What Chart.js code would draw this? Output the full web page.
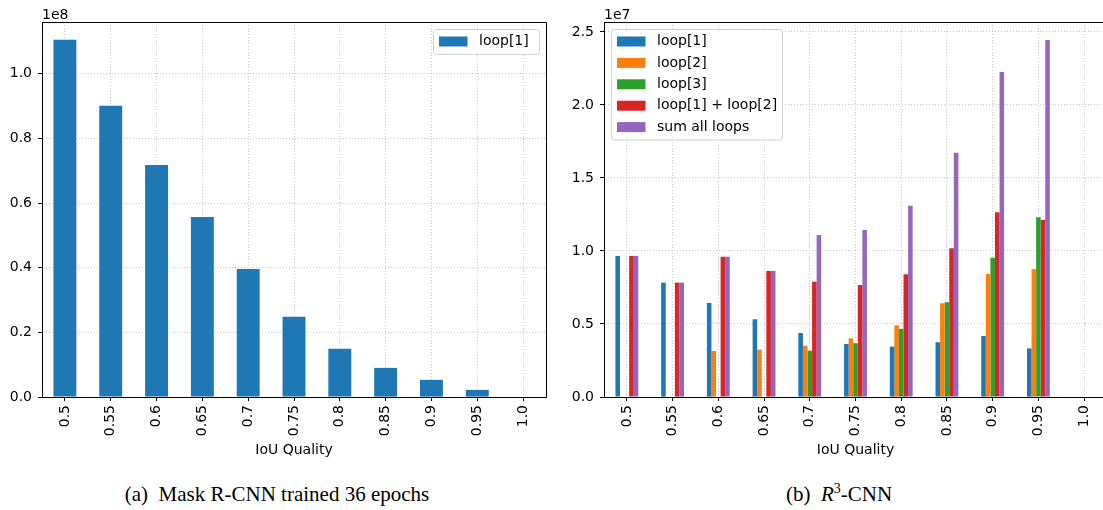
<!DOCTYPE html>
<html>
<head>
<meta charset="utf-8">
<script src="https://cdn.jsdelivr.net/npm/chart.js@4.4.1/dist/chart.umd.min.js"></script>
<style>
  html, body { margin: 0; padding: 0; background: #fff; }
  body { width: 1103px; height: 510px; overflow: hidden; position: relative; }
  canvas { position: absolute; top: 0; }
  .cap { position: absolute; top: 481px; font: 21px "Liberation Serif", "Times New Roman", serif; line-height: 26px; color: #000; white-space: nowrap; transform: translateX(-50%); }
  .cap sup { font-size: 14px; line-height: 0; }
</style>
</head>
<body>
<canvas id="mask-rcnn" width="555" height="470" style="left:0"></canvas>
<canvas id="r3-cnn" width="560" height="470" style="left:555px"></canvas>
<div class="cap" style="left:277px">(a)&nbsp; Mask R-CNN trained 36 epochs</div>
<div class="cap" style="left:839px">(b)&nbsp; <i>R</i><sup>3</sup>-CNN</div>
<script>
// IoU histogram: Mask R-CNN (left, x1e8) vs R3-CNN loops (right, x1e7)
const iouBins = ['0.5', '0.55', '0.6', '0.65', '0.7', '0.75', '0.8', '0.85', '0.9', '0.95', '1.0'];

// left panel, units of 1e8
const maskLoop1 = [1.105, 0.901, 0.718, 0.557, 0.396, 0.248, 0.149, 0.090, 0.053, 0.022, 0];
const maskTicks = [0, 0.2, 0.4, 0.6, 0.8, 1.0];
const maskMax = 1.16;

// right panel, units of 1e7
const r3Loop1 = [0.966, 0.783, 0.644, 0.532, 0.438, 0.363, 0.345, 0.375, 0.418, 0.333, null];
const r3Loop2 = [null, null, 0.315, 0.324, 0.351, 0.402, 0.491, 0.642, 0.842, 0.875, null];
const r3Loop3 = [null, null, null, null, 0.317, 0.368, 0.466, 0.649, 0.954, 1.231, null];
const r3Loop12 = [0.966, 0.783, 0.960, 0.863, 0.790, 0.767, 0.840, 1.018, 1.265, 1.212, null];
const r3SumAll = [0.966, 0.783, 0.960, 0.863, 1.110, 1.144, 1.310, 1.673, 2.226, 2.445, null];
const r3Ticks = [0, 0.5, 1.0, 1.5, 2.0, 2.5];
const r3Max = 2.568;

const tab = { blue: '#1f77b4', orange: '#ff7f0e', green: '#2ca02c', red: '#d62728', purple: '#9467bd' };
const FONT = '"DejaVu Sans", sans-serif';

// legend box drawn inside the axes, matplotlib style
const insideLegend = {
  id: 'insideLegend',
  afterDraw(chart, args, opts) {
    const { ctx, chartArea: area } = chart;
    const sets = chart.data.datasets;
    const rowH = 21.4;
    const w = opts.width;
    const h = sets.length * rowH + 3.5;
    const x0 = opts.side === 'right' ? area.right - 7 - w : area.left + 7;
    const y0 = area.top + 7;
    ctx.save();
    ctx.beginPath();
    if (ctx.roundRect) ctx.roundRect(x0 + 0.5, y0 + 0.5, w, h, 3);
    else ctx.rect(x0 + 0.5, y0 + 0.5, w, h);
    ctx.fillStyle = 'rgba(255,255,255,0.8)';
    ctx.fill();
    ctx.strokeStyle = '#d0d0d0';
    ctx.lineWidth = 1;
    ctx.stroke();
    ctx.font = '14px ' + FONT;
    ctx.textBaseline = 'middle';
    sets.forEach((ds, i) => {
      const cy = y0 + 12.5 + i * rowH;
      ctx.fillStyle = ds.backgroundColor;
      ctx.fillRect(x0 + 6, cy - 5, 28.5, 10);
      ctx.fillStyle = '#000';
      ctx.fillText(ds.label, x0 + 46, cy);
    });
    ctx.restore();
  },
};

// top/right spines and the "1eN" offset text
const frame = {
  id: 'frame',
  afterDraw(chart, args, opts) {
    const { ctx, chartArea: a } = chart;
    ctx.save();
    ctx.strokeStyle = '#000';
    ctx.lineWidth = 1;
    ctx.beginPath();
    ctx.moveTo(a.left, a.top + 0.5);
    ctx.lineTo(a.right + 0.5, a.top + 0.5);
    ctx.lineTo(a.right + 0.5, a.bottom);
    ctx.stroke();
    ctx.fillStyle = '#000';
    ctx.font = '14px ' + FONT;
    ctx.textBaseline = 'alphabetic';
    ctx.fillText(opts.offsetText, a.left, 19);
    ctx.restore();
  },
};

function makeChart(canvasId, datasets, cfg) {
  const canvas = document.getElementById(canvasId);
  return new Chart(canvas, {
    type: 'bar',
    data: { labels: iouBins, datasets },
    plugins: [insideLegend, frame],
    options: {
      responsive: false, animation: false,
      layout: { padding: { top: 22, right: cfg.padRight, left: 0, bottom: 0 } },
      datasets: { bar: { categoryPercentage: 0.5, barPercentage: 1.0, borderWidth: 0 } },
      plugins: {
        legend: { display: false },
        tooltip: { enabled: false },
        insideLegend: { side: cfg.legendSide, width: cfg.legendWidth },
        frame: { offsetText: cfg.offsetText },
      },
      scales: {
        x: {
          z: 1,
          offset: true,
          afterFit: (s) => { s.height = 73; },
          grid: { offset: false, color: '#bdbdbd', lineWidth: 0.8, tickLength: 4, tickColor: '#000', tickWidth: 1, tickBorderDash: [] },
          border: { display: true, color: '#000', width: 1, dash: [1, 2] },
          ticks: { color: '#000', font: { family: FONT, size: 14 }, minRotation: 90, maxRotation: 90, autoSkip: false, padding: 4 },
          title: { display: true, text: 'IoU Quality', color: '#000', font: { family: FONT, size: 14 }, padding: { top: 0, bottom: 11 } },
        },
        y: {
          z: 1,
          min: 0, max: cfg.yMax,
          afterFit: (s) => { s.width = cfg.yWidth; },
          afterBuildTicks: (s) => { s.ticks = cfg.yTicks.map((v) => ({ value: v })); },
          grid: { color: '#bdbdbd', lineWidth: 0.8, tickLength: 4, tickColor: '#000', tickWidth: 1, tickBorderDash: [] },
          border: { display: true, color: '#000', width: 1, dash: [1, 2] },
          ticks: { color: '#000', font: { family: FONT, size: 14 }, padding: 6, callback: (v) => Number(v).toFixed(1) },
        },
      },
    },
  });
}

makeChart('mask-rcnn', [
  { label: 'loop[1]', data: maskLoop1, backgroundColor: tab.blue },
], { yMax: maskMax, yTicks: maskTicks, yWidth: 42, padRight: 9, legendSide: 'right', legendWidth: 106, offsetText: '1e8' });

makeChart('r3-cnn', [
  { label: 'loop[1]', data: r3Loop1, backgroundColor: tab.blue },
  { label: 'loop[2]', data: r3Loop2, backgroundColor: tab.orange },
  { label: 'loop[3]', data: r3Loop3, backgroundColor: tab.green },
  { label: 'loop[1] + loop[2]', data: r3Loop12, backgroundColor: tab.red },
  { label: 'sum all loops', data: r3SumAll, backgroundColor: tab.purple },
], { yMax: r3Max, yTicks: r3Ticks, yWidth: 49, padRight: 8, legendSide: 'left', legendWidth: 171, offsetText: '1e7' });
</script>
</body>
</html>
